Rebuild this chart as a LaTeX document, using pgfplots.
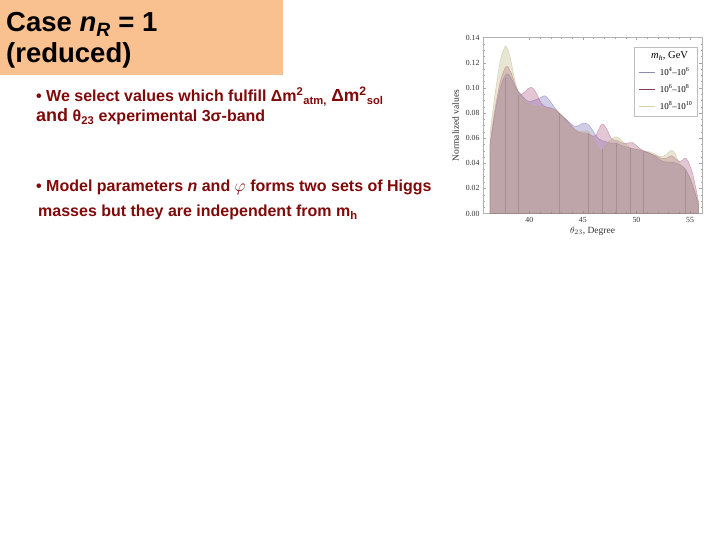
\documentclass[border=0pt]{standalone}
\usepackage{fontspec}
\setmainfont{Liberation Sans}
\newfontfamily\chartfont{Liberation Serif}
\usepackage{pgfplots}
\pgfplotsset{compat=1.18}

\definecolor{titlebg}{RGB}{249,192,144}
\definecolor{slidetext}{RGB}{128,10,10}
\definecolor{sA}{RGB}{100,90,180}
\definecolor{sB}{RGB}{165,70,115}
\definecolor{sC}{RGB}{180,170,110}
\definecolor{lA}{RGB}{140,140,175}
\definecolor{lB}{RGB}{125,60,90}
\definecolor{lC}{RGB}{215,208,170}
\definecolor{meshc}{RGB}{140,112,125}

\begin{document}
\begin{tikzpicture}
\fill[white] (0,0) rectangle (720pt,-540pt);
\path[use as bounding box] (0,0) rectangle (720pt,-540pt);

% slide title
\fill[titlebg] (0,0) rectangle (283pt,-75pt);
\node[anchor=base west, inner sep=0pt, font=\bfseries\fontsize{27.5}{30}\selectfont]
  at (6pt,-31.5pt) {Case \textit{n}\textsubscript{\textit{R}} = 1};
\node[anchor=base west, inner sep=0pt, font=\bfseries\fontsize{27.5}{30}\selectfont]
  at (6pt,-63pt) {(reduced)};

% bullet text
\begin{scope}[every node/.style={anchor=base west, inner sep=0pt, text=slidetext,
    font=\bfseries\fontsize{16}{18}\selectfont}]
\node at (36pt,-102pt) {• We select values which fulfill Δm\textsuperscript{2}\textsubscript{atm,}
  {\fontsize{17.5}{18}\selectfont Δm\textsuperscript{2}}\textsubscript{sol}};
\node at (36pt,-122pt) {{\fontsize{18}{18}\selectfont and} θ\textsubscript{23} experimental 3σ-band};
\node at (36pt,-192pt) {• Model parameters \textit{n} and $\varphi$ forms two sets of Higgs};
\node at (38pt,-217pt) {masses but they are independent from m\textsubscript{h}};
\end{scope}

\begin{axis}[
  at={(483pt,-213.5pt)}, anchor=south west,
  scale only axis, width=219pt, height=176pt,
  xmin=35.68, xmax=56.12, ymin=0, ymax=0.14,
  xtick={40,45,50,55}, ytick={0,0.02,...,0.141},
  minor x tick num=4, minor y tick num=3,
  tick align=inside, major tick length=3pt, minor tick length=1.5pt,
  tick style={gray!70}, axis line style={gray!60},
  xtick pos=both, ytick pos=both,
  /pgf/number format/assume math mode=true,
  yticklabel style={/pgf/number format/.cd, fixed, fixed zerofill, precision=2},
  tick label style={font=\chartfont\fontsize{7.8}{8}\selectfont, text=black!80},
  xlabel={$\theta_{23}$, Degree}, ylabel={Normalized values},
  label style={font=\chartfont\fontsize{9.5}{10}\selectfont, text=black!80},
  xlabel style={yshift=2pt}, ylabel style={yshift=0pt},
  legend style={at={(0.98,0.947)}, anchor=north east, draw=gray!50, fill=white,
    font=\chartfont\fontsize{9}{10}\selectfont, row sep=4.5pt, inner sep=3.5pt,
    nodes={inner sep=1.5pt}},
  legend cell align=left,
  legend image code/.code={\draw[#1] (0cm,0cm) -- (0.58cm,0cm);},
]
\addlegendimage{empty legend}
\addlegendentry{\hspace{-0.2cm}\fontsize{10.5}{11}\selectfont\textit{m}\textsubscript{\textit{h}}, GeV}
\addlegendimage{lA, line width=0.8pt}
\addlegendentry{\hspace{3pt}10\textsuperscript{4}–10\textsuperscript{6}}
\addlegendimage{lB, line width=0.8pt}
\addlegendentry{\hspace{3pt}10\textsuperscript{6}–10\textsuperscript{8}}
\addlegendimage{lC, line width=0.8pt}
\addlegendentry{\hspace{3pt}10\textsuperscript{8}–10\textsuperscript{10}}

% 10^4 - 10^6
\addplot[forget plot, smooth, fill=sA, fill opacity=0.3, draw=sA, draw opacity=0.5, line width=0.4pt]
coordinates {
(36.33,0.054) (36.8,0.080) (37.3,0.100) (37.7,0.109) (38.0,0.111) (38.4,0.106)
(38.8,0.099) (39.2,0.095) (39.6,0.091) (40.0,0.089) (40.4,0.090) (40.8,0.091)
(41.2,0.093) (41.5,0.0935) (41.9,0.090) (42.3,0.085) (42.8,0.080) (43.3,0.076)
(43.8,0.072) (44.3,0.069) (44.8,0.071) (45.2,0.072) (45.6,0.070) (46.0,0.065)
(46.4,0.060) (46.8,0.058) (47.2,0.057) (47.6,0.056) (48.1,0.056) (48.6,0.054)
(49.0,0.053) (49.5,0.052) (50.0,0.051) (50.6,0.050) (51.2,0.048) (51.8,0.045)
(52.3,0.042) (52.7,0.041) (53.2,0.041) (53.7,0.040) (54.2,0.038) (54.6,0.035)
(55.0,0.028) (55.4,0.018) (55.78,0.008)
} \closedcycle;

% 10^6 - 10^8
\addplot[forget plot, smooth, fill=sB, fill opacity=0.3, draw=sB, draw opacity=0.5, line width=0.4pt]
coordinates {
(36.33,0.055) (36.8,0.083) (37.3,0.105) (37.7,0.115) (37.95,0.117) (38.3,0.112)
(38.7,0.102) (39.1,0.095) (39.5,0.096) (39.9,0.0995) (40.3,0.100) (40.7,0.095)
(41.1,0.088) (41.5,0.085) (42.0,0.084) (42.5,0.082) (43.0,0.078) (43.5,0.074)
(44.0,0.069) (44.5,0.065) (45.0,0.064) (45.4,0.064) (45.8,0.062) (46.2,0.062)
(46.6,0.069) (46.9,0.071) (47.3,0.066) (47.7,0.059) (48.2,0.058) (48.7,0.056)
(49.2,0.056) (49.6,0.0565) (50.0,0.054) (50.6,0.050) (51.2,0.048) (51.8,0.046)
(52.3,0.044) (52.8,0.044) (53.3,0.046) (53.7,0.043) (54.1,0.041) (54.5,0.044)
(54.8,0.042) (55.2,0.033) (55.5,0.022) (55.78,0.010)
} \closedcycle;

% 10^8 - 10^10
\addplot[forget plot, smooth, fill=sC, fill opacity=0.3, draw=sC, draw opacity=0.5, line width=0.4pt]
coordinates {
(36.33,0.064) (36.8,0.095) (37.3,0.122) (37.7,0.132) (37.85,0.133) (38.2,0.125)
(38.6,0.108) (39.0,0.096) (39.4,0.092) (39.8,0.088) (40.2,0.086) (40.6,0.085)
(41.0,0.085) (41.5,0.084) (42.0,0.083) (42.5,0.082) (43.0,0.078) (43.5,0.073)
(44.0,0.068) (44.5,0.066) (45.0,0.065) (45.4,0.066) (45.8,0.062) (46.2,0.055)
(46.6,0.050) (47.0,0.053) (47.5,0.058) (48.1,0.061) (48.6,0.058) (49.0,0.055)
(49.5,0.052) (50.0,0.051) (50.6,0.050) (51.2,0.049) (51.8,0.047) (52.3,0.045)
(52.8,0.047) (53.2,0.050) (53.5,0.049) (53.9,0.042) (54.3,0.037) (54.7,0.033)
(55.1,0.027) (55.5,0.017) (55.78,0.008)
} \closedcycle;

% mesh lines
\addplot[forget plot, ycomb, draw=meshc, draw opacity=0.45, line width=0.4pt, mark=none]
coordinates {
(37.75,0.108) (38.97,0.094) (42.78,0.080) (45.5,0.063) (46.77,0.051)
(48.1,0.056) (49.4,0.052) (50.66,0.049) (54.55,0.034)
};
\end{axis}
\end{tikzpicture}
\end{document}
